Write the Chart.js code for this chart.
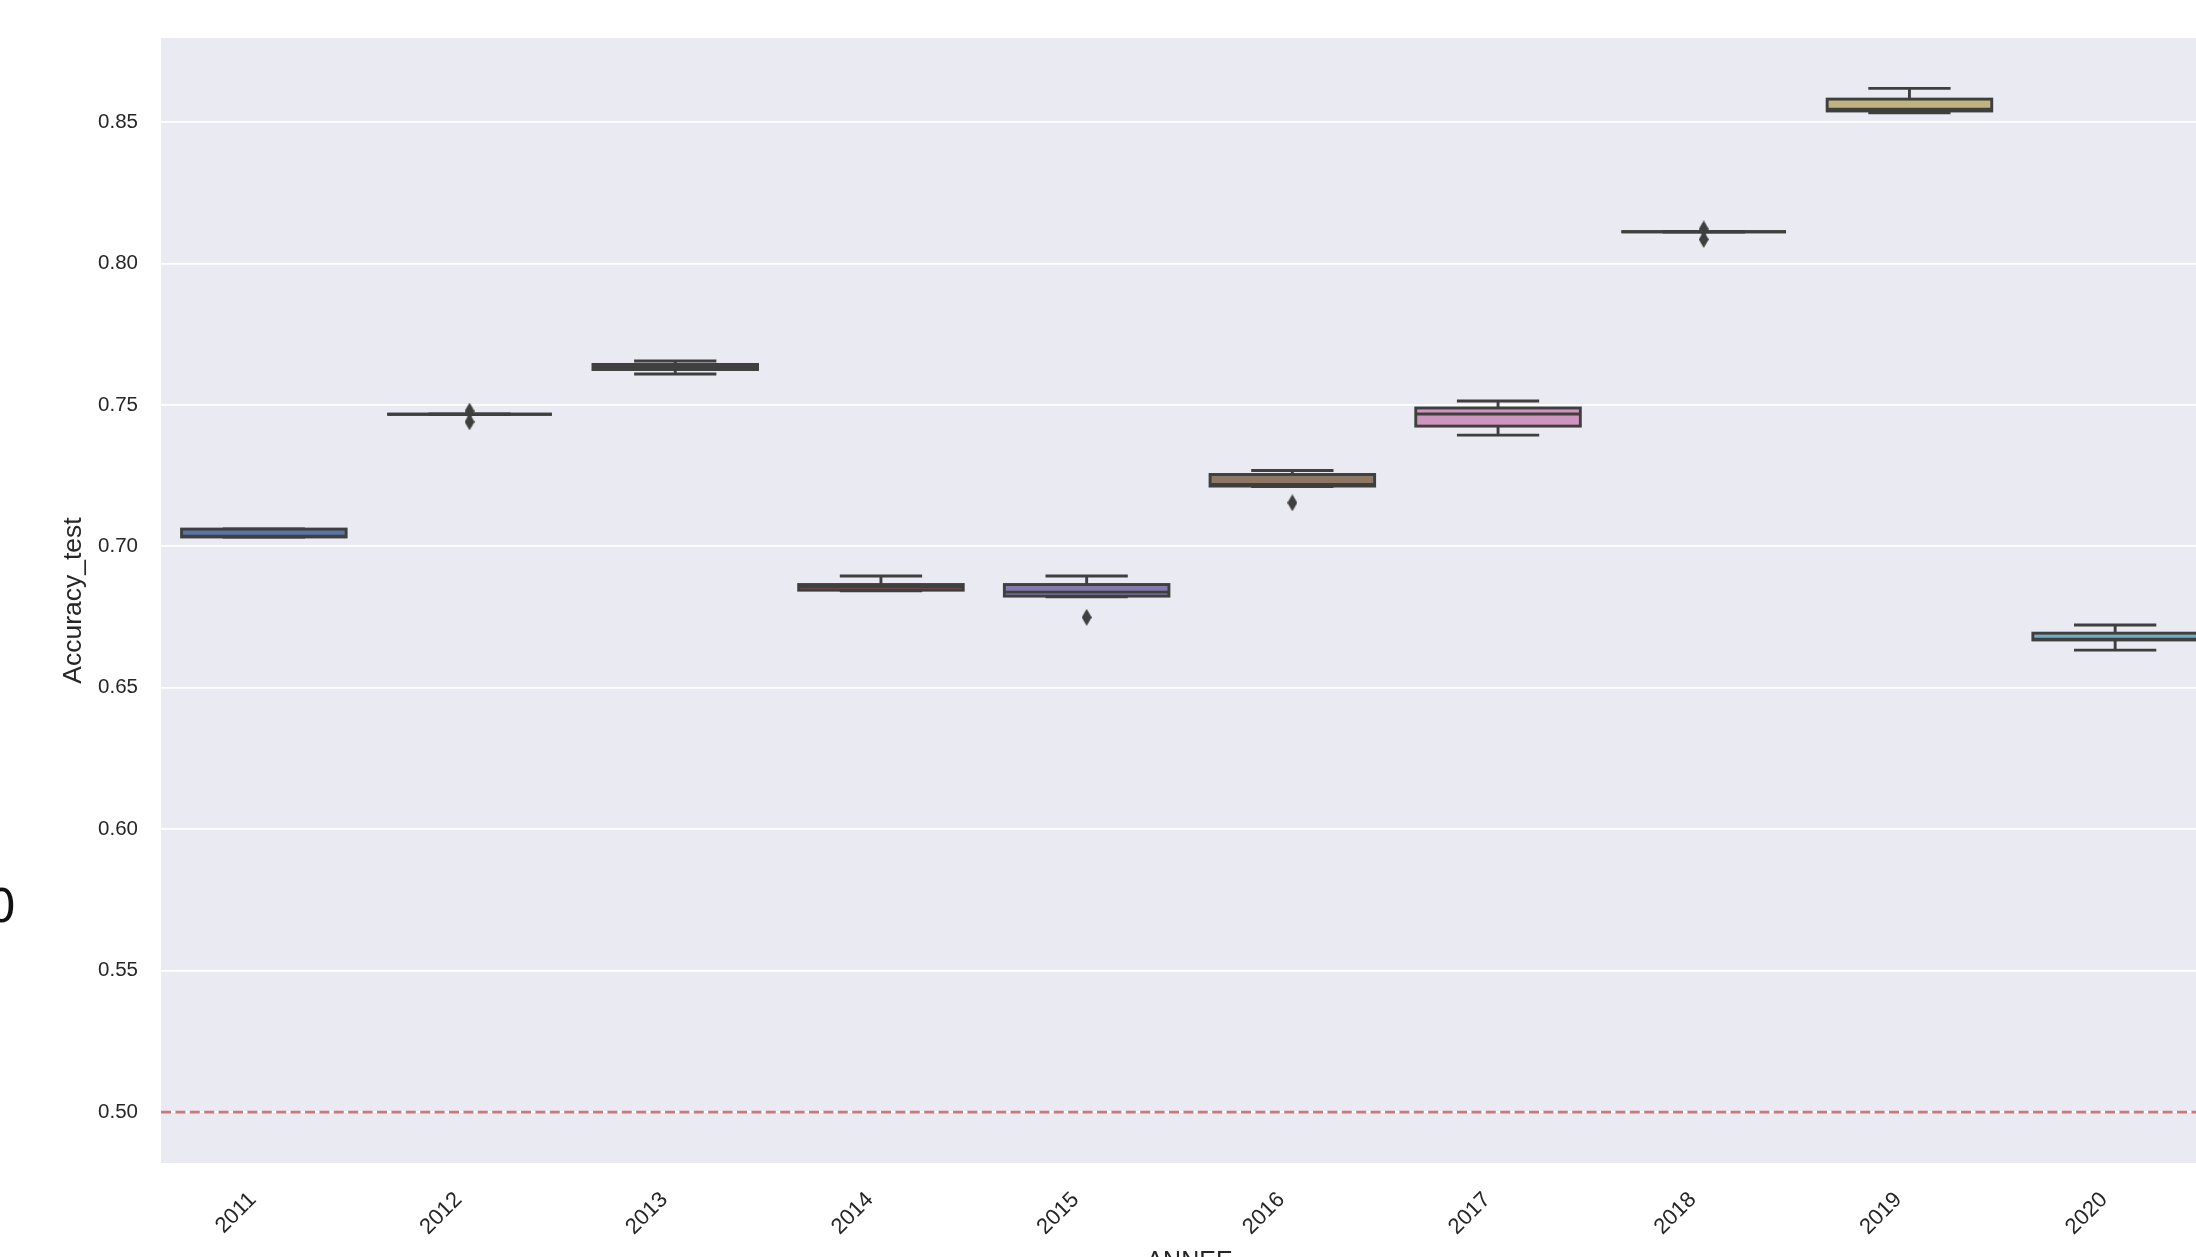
<!DOCTYPE html>
<html>
<head>
<meta charset="utf-8">
<script src="https://cdn.jsdelivr.net/npm/chart.js@4.4.1/dist/chart.umd.min.js"></script>
<style>
    html, body { margin: 0; padding: 0; background: #ffffff; overflow: hidden; }
    #wrap { position: relative; width: 2240px; height: 1300px; }
    #stray { position: absolute; left: -13px; top: 883px; font: 46px/46px "DejaVu Sans", sans-serif; color: #111111; }
</style>
</head>
<body>
<div id="wrap">
    <canvas id="accuracy-chart" width="2240" height="1300"></canvas>
    <div id="stray">0</div>
</div>
<script>
// Years on the x axis
const years = ['2011', '2012', '2013', '2014', '2015', '2016', '2017', '2018', '2019', '2020'];

// Box statistics per year
const whiskerLow  = [0.7033, 0.7466, 0.7609, 0.6843, 0.6822, 0.7211, 0.7393, 0.8111, 0.8533, 0.6633];
const quartile1   = [0.7033, 0.7467, 0.7625, 0.6845, 0.6824, 0.7213, 0.7425, 0.8112, 0.8539, 0.6669];
const medians     = [0.7036, 0.7467, 0.7634, 0.6856, 0.6838, 0.7219, 0.7468, 0.8112, 0.8545, 0.6672];
const quartile3   = [0.7061, 0.7467, 0.7643, 0.6865, 0.6865, 0.7254, 0.7489, 0.8112, 0.8581, 0.6693];
const whiskerHigh = [0.7061, 0.7468, 0.7655, 0.6895, 0.6895, 0.7268, 0.7514, 0.8113, 0.8619, 0.6722];

// Outliers (fliers)
const outlierYears  = ['2012', '2012', '2015', '2016', '2018', '2018'];
const outlierValues = [0.7478, 0.7440, 0.6749, 0.7154, 0.8122, 0.8085];

// Y ticks and reference line
const yTicks = [0.50, 0.55, 0.60, 0.65, 0.70, 0.75, 0.80, 0.85];
const referenceLevel = 0.5;

const boxColors = ['#5975a4', '#cc8963', '#5f9e6e', '#b55d60', '#857aab',
                   '#8d7866', '#d095bf', '#8c8c8c', '#c1b37f', '#71aec0'];
const edgeColor = '#3f3f3f';
const textColor = '#262626';

Chart.defaults.font.family = '"Liberation Sans", Arial, sans-serif';

// Thin diamond marker for the fliers
function makeDiamond(w, h, color) {
    const c = document.createElement('canvas');
    c.width = w;
    c.height = h;
    const g = c.getContext('2d');
    g.fillStyle = color;
    g.beginPath();
    g.moveTo(w / 2, 0);
    g.lineTo(w, h / 2);
    g.lineTo(w / 2, h);
    g.lineTo(0, h / 2);
    g.closePath();
    g.fill();
    return c;
}

// Grey plot background
const backgroundPlugin = {
    id: 'plotBackground',
    beforeDraw(chart) {
        const { ctx, chartArea } = chart;
        ctx.save();
        ctx.fillStyle = '#eaeaf2';
        ctx.fillRect(chartArea.left, chartArea.top, chartArea.right - chartArea.left, chartArea.bottom - chartArea.top);
        ctx.restore();
    }
};

// Boxes, whiskers, caps and medians, placed with the chart scales
const boxPlugin = {
    id: 'boxes',
    beforeDatasetsDraw(chart) {
        const { ctx } = chart;
        const xs = chart.scales.x;
        const ys = chart.scales.y;
        const boxWidth = 0.8;
        ctx.save();
        ctx.lineWidth = 2.9;
        ctx.strokeStyle = edgeColor;
        ctx.lineCap = 'butt';
        years.forEach((year, i) => {
            const cx = xs.getPixelForValue(i);
            const left = xs.getPixelForValue(i - boxWidth / 2);
            const right = xs.getPixelForValue(i + boxWidth / 2);
            const capLeft = xs.getPixelForValue(i - boxWidth / 4);
            const capRight = xs.getPixelForValue(i + boxWidth / 4);
            const yLo = ys.getPixelForValue(whiskerLow[i]);
            const yQ1 = ys.getPixelForValue(quartile1[i]);
            const yMed = ys.getPixelForValue(medians[i]);
            const yQ3 = ys.getPixelForValue(quartile3[i]);
            const yHi = ys.getPixelForValue(whiskerHigh[i]);

            // whiskers
            ctx.beginPath();
            ctx.moveTo(cx, yQ3);
            ctx.lineTo(cx, yHi);
            ctx.moveTo(cx, yQ1);
            ctx.lineTo(cx, yLo);
            // caps
            ctx.moveTo(capLeft, yHi);
            ctx.lineTo(capRight, yHi);
            ctx.moveTo(capLeft, yLo);
            ctx.lineTo(capRight, yLo);
            ctx.stroke();

            // box
            ctx.fillStyle = boxColors[i];
            ctx.fillRect(left, yQ3, right - left, yQ1 - yQ3);
            ctx.strokeRect(left, yQ3, right - left, yQ1 - yQ3);

            // median
            ctx.beginPath();
            ctx.moveTo(left, yMed);
            ctx.lineTo(right, yMed);
            ctx.stroke();
        });
        ctx.restore();
    },
    afterDatasetsDraw(chart) {
        // dashed reference line at 0.5
        const { ctx, chartArea } = chart;
        const y = chart.scales.y.getPixelForValue(referenceLevel);
        ctx.save();
        ctx.strokeStyle = '#d0767b';
        ctx.lineWidth = 2.7;
        ctx.setLineDash([10, 4.4]);
        ctx.beginPath();
        ctx.moveTo(chartArea.left, y);
        ctx.lineTo(chartArea.right, y);
        ctx.stroke();
        ctx.restore();
    }
};

const ctx = document.getElementById('accuracy-chart').getContext('2d');
new Chart(ctx, {
    type: 'scatter',
    data: {
        labels: years,
        datasets: [{
            label: 'fliers',
            data: outlierYears.map((year, i) => ({ x: year, y: outlierValues[i] })),
            pointStyle: makeDiamond(10, 17, edgeColor),
            pointRadius: 7,
            pointHoverRadius: 7
        }]
    },
    options: {
        responsive: false,
        devicePixelRatio: 1,
        animation: false,
        layout: { padding: { left: 0, right: 22, top: 38, bottom: 0 } },
        plugins: {
            legend: { display: false },
            tooltip: { enabled: false }
        },
        scales: {
            x: {
                type: 'category',
                offset: true,
                grid: { display: false, drawTicks: false },
                border: { display: false },
                ticks: {
                    color: textColor,
                    font: { size: 22 },
                    minRotation: 45,
                    maxRotation: 45,
                    autoSkip: false,
                    padding: 24,
                    labelOffset: -11
                },
                title: {
                    display: true,
                    text: 'ANNEE',
                    color: textColor,
                    font: { size: 25 },
                    padding: { top: 0, bottom: 23 }
                },
                afterFit(scale) { scale.height = 137; }
            },
            y: {
                type: 'linear',
                min: 0.482,
                max: 0.8797,
                afterBuildTicks(scale) {
                    scale.ticks = yTicks.map(v => ({ value: v }));
                },
                grid: { color: '#ffffff', lineWidth: 1.8, drawTicks: false },
                border: { display: false },
                ticks: {
                    color: textColor,
                    font: { size: 20.5 },
                    padding: 23,
                    callback: v => v.toFixed(2)
                },
                title: {
                    display: true,
                    text: 'Accuracy_test',
                    color: textColor,
                    font: { size: 26.5 },
                    padding: { top: 58, bottom: 0 }
                },
                afterFit(scale) { scale.width = 161; }
            }
        }
    },
    plugins: [backgroundPlugin, boxPlugin]
});
</script>
</body>
</html>
